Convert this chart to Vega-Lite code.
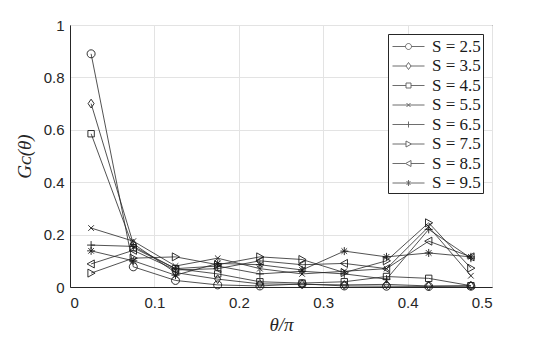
{
  "$schema": "https://vega.github.io/schema/vega-lite/v6.json",
  "width": 422,
  "height": 262,
  "autosize": {"type": "none"},
  "padding": {"left": 70, "top": 25, "right": 53, "bottom": 54},
  "background": "white",
  "config": {
    "view": {"stroke": "#262626", "strokeWidth": 1},
    "axis": {
      "labelFont": "Liberation Sans",
      "labelFontSize": 15,
      "labelColor": "#262626",
      "titleFont": "Liberation Serif",
      "titleFontStyle": "italic",
      "titleFontWeight": "normal",
      "titleFontSize": 19,
      "titleColor": "#262626",
      "domainColor": "#262626",
      "gridColor": "#e3e3e3",
      "gridOpacity": 1,
      "ticks": false
    }
  },
  "data": {
    "values": [
      {"S": "2.5", "t": 0.025, "g": 0.89}, {"S": "2.5", "t": 0.075, "g": 0.077}, {"S": "2.5", "t": 0.125, "g": 0.025}, {"S": "2.5", "t": 0.175, "g": 0.008}, {"S": "2.5", "t": 0.225, "g": 0.004}, {"S": "2.5", "t": 0.275, "g": 0.012}, {"S": "2.5", "t": 0.325, "g": 0.004}, {"S": "2.5", "t": 0.375, "g": 0.003}, {"S": "2.5", "t": 0.425, "g": 0.002}, {"S": "2.5", "t": 0.475, "g": 0.003},
      {"S": "3.5", "t": 0.025, "g": 0.70}, {"S": "3.5", "t": 0.075, "g": 0.165}, {"S": "3.5", "t": 0.125, "g": 0.055}, {"S": "3.5", "t": 0.175, "g": 0.03}, {"S": "3.5", "t": 0.225, "g": 0.012}, {"S": "3.5", "t": 0.275, "g": 0.01}, {"S": "3.5", "t": 0.325, "g": 0.008}, {"S": "3.5", "t": 0.375, "g": 0.01}, {"S": "3.5", "t": 0.425, "g": 0.004}, {"S": "3.5", "t": 0.475, "g": 0.005},
      {"S": "4.5", "t": 0.025, "g": 0.585}, {"S": "4.5", "t": 0.075, "g": 0.15}, {"S": "4.5", "t": 0.125, "g": 0.07}, {"S": "4.5", "t": 0.175, "g": 0.05}, {"S": "4.5", "t": 0.225, "g": 0.02}, {"S": "4.5", "t": 0.275, "g": 0.015}, {"S": "4.5", "t": 0.325, "g": 0.02}, {"S": "4.5", "t": 0.375, "g": 0.04}, {"S": "4.5", "t": 0.425, "g": 0.033}, {"S": "4.5", "t": 0.475, "g": 0.005},
      {"S": "5.5", "t": 0.025, "g": 0.225}, {"S": "5.5", "t": 0.075, "g": 0.175}, {"S": "5.5", "t": 0.125, "g": 0.08}, {"S": "5.5", "t": 0.175, "g": 0.11}, {"S": "5.5", "t": 0.225, "g": 0.07}, {"S": "5.5", "t": 0.275, "g": 0.05}, {"S": "5.5", "t": 0.325, "g": 0.06}, {"S": "5.5", "t": 0.375, "g": 0.07}, {"S": "5.5", "t": 0.425, "g": 0.23}, {"S": "5.5", "t": 0.475, "g": 0.043},
      {"S": "6.5", "t": 0.025, "g": 0.16}, {"S": "6.5", "t": 0.075, "g": 0.155}, {"S": "6.5", "t": 0.125, "g": 0.07}, {"S": "6.5", "t": 0.175, "g": 0.08}, {"S": "6.5", "t": 0.225, "g": 0.05}, {"S": "6.5", "t": 0.275, "g": 0.06}, {"S": "6.5", "t": 0.325, "g": 0.05}, {"S": "6.5", "t": 0.375, "g": 0.03}, {"S": "6.5", "t": 0.425, "g": 0.22}, {"S": "6.5", "t": 0.475, "g": 0.11},
      {"S": "7.5", "t": 0.025, "g": 0.053}, {"S": "7.5", "t": 0.075, "g": 0.11}, {"S": "7.5", "t": 0.125, "g": 0.115}, {"S": "7.5", "t": 0.175, "g": 0.085}, {"S": "7.5", "t": 0.225, "g": 0.115}, {"S": "7.5", "t": 0.275, "g": 0.105}, {"S": "7.5", "t": 0.325, "g": 0.055}, {"S": "7.5", "t": 0.375, "g": 0.1}, {"S": "7.5", "t": 0.425, "g": 0.245}, {"S": "7.5", "t": 0.475, "g": 0.072},
      {"S": "8.5", "t": 0.025, "g": 0.088}, {"S": "8.5", "t": 0.075, "g": 0.14}, {"S": "8.5", "t": 0.125, "g": 0.065}, {"S": "8.5", "t": 0.175, "g": 0.07}, {"S": "8.5", "t": 0.225, "g": 0.1}, {"S": "8.5", "t": 0.275, "g": 0.085}, {"S": "8.5", "t": 0.325, "g": 0.09}, {"S": "8.5", "t": 0.375, "g": 0.07}, {"S": "8.5", "t": 0.425, "g": 0.175}, {"S": "8.5", "t": 0.475, "g": 0.115},
      {"S": "9.5", "t": 0.025, "g": 0.138}, {"S": "9.5", "t": 0.075, "g": 0.1}, {"S": "9.5", "t": 0.125, "g": 0.045}, {"S": "9.5", "t": 0.175, "g": 0.09}, {"S": "9.5", "t": 0.225, "g": 0.085}, {"S": "9.5", "t": 0.275, "g": 0.065}, {"S": "9.5", "t": 0.325, "g": 0.137}, {"S": "9.5", "t": 0.375, "g": 0.115}, {"S": "9.5", "t": 0.425, "g": 0.13}, {"S": "9.5", "t": 0.475, "g": 0.115}
    ]
  },
  "encoding": {
    "x": {
      "field": "t", "type": "quantitative",
      "scale": {"domain": [0, 0.5], "nice": false},
      "axis": {"values": [0, 0.1, 0.2, 0.3, 0.4, 0.5], "labelExpr": "format(datum.value, '~g')", "title": "θ/π", "labelPadding": 8, "titlePadding": 5}
    },
    "y": {
      "field": "g", "type": "quantitative",
      "scale": {"domain": [0, 1], "nice": false},
      "axis": {"values": [0, 0.2, 0.4, 0.6, 0.8, 1], "labelExpr": "format(datum.value, '~g')", "title": "Gᴄ(θ)", "labelPadding": 6, "titlePadding": 9}
    }
  },
  "layer": [
    {
      "mark": {"type": "line", "color": "#262626", "strokeWidth": 0.8},
      "encoding": {"detail": {"field": "S"}}
    },
    {
      "mark": {"type": "point", "filled": false, "color": "#1a1a1a", "strokeWidth": 0.9, "size": 64, "opacity": 1},
      "encoding": {
        "shape": {
          "field": "S", "type": "nominal",
          "scale": {"domain": ["2.5","3.5","4.5","5.5","6.5","7.5","8.5","9.5"], "range": [
            "M-1,0A1,1 0 1,0 1,0A1,1 0 1,0 -1,0",
            "M0,-1.1L0.75,0L0,1.1L-0.75,0Z",
            "M-0.8,-0.8L0.8,-0.8L0.8,0.8L-0.8,0.8Z",
            "M-0.7,-0.7L0.7,0.7M-0.7,0.7L0.7,-0.7",
            "M-1,0L1,0M0,-1L0,1",
            "M-0.8,-1L1,0L-0.8,1Z",
            "M0.8,-1L-1,0L0.8,1Z",
            "M-1,0L1,0M0,-1L0,1M-0.7,-0.7L0.7,0.7M-0.7,0.7L0.7,-0.7"
          ]},
          "legend": null
        }
      }
    },
    {
      "mark": {"type": "point", "filled": false, "color": "#1a1a1a", "strokeWidth": 0.9, "clip": true},
      "encoding": {
        "y": {"datum": -1, "type": "quantitative"},
        "shape": {
          "field": "S", "type": "nominal",
          "scale": {"domain": ["2.5","3.5","4.5","5.5","6.5","7.5","8.5","9.5"], "range": [
            "M-0.8,0L0.5,0M1.1,0L2.4,0M0.5,0A0.3,0.3 0 1,0 1.1,0A0.3,0.3 0 1,0 0.5,0",
            "M-0.8,0L0.55,0M1.05,0L2.4,0M0.8,-0.35L1.05,0L0.8,0.35L0.55,0Z",
            "M-0.8,0L0.55,0M1.05,0L2.4,0M0.55,-0.25L1.05,-0.25L1.05,0.25L0.55,0.25Z",
            "M-0.8,0L2.4,0M0.6,-0.2L1.0,0.2M0.6,0.2L1.0,-0.2",
            "M-0.8,0L2.4,0M0.8,-0.3L0.8,0.3",
            "M-0.8,0L0.55,0M1.1,0L2.4,0M0.55,-0.3L1.1,0L0.55,0.3Z",
            "M-0.8,0L0.5,0M1.05,0L2.4,0M1.05,-0.3L0.5,0L1.05,0.3Z",
            "M-0.8,0L2.4,0M0.8,-0.3L0.8,0.3M0.6,-0.2L1.0,0.2M0.6,0.2L1.0,-0.2"
          ]},
          "legend": {
            "title": null,
            "orient": "top-right",
            "offset": 9,
            "padding": 2,
            "strokeColor": "#262626",
            "fillColor": "white",
            "symbolSize": 400,
            "symbolStrokeWidth": 0.9,
            "symbolStrokeColor": "#1a1a1a",
            "symbolFillColor": "transparent",
            "labelFont": "Liberation Serif",
            "labelFontSize": 17,
            "labelColor": "#1a1a1a",
            "labelOffset": 21,
            "rowPadding": 0.5,
            "labelExpr": "'S = ' + datum.label"
          }
        }
      }
    }
  ],
  "resolve": {"scale": {"shape": "independent"}}
}
